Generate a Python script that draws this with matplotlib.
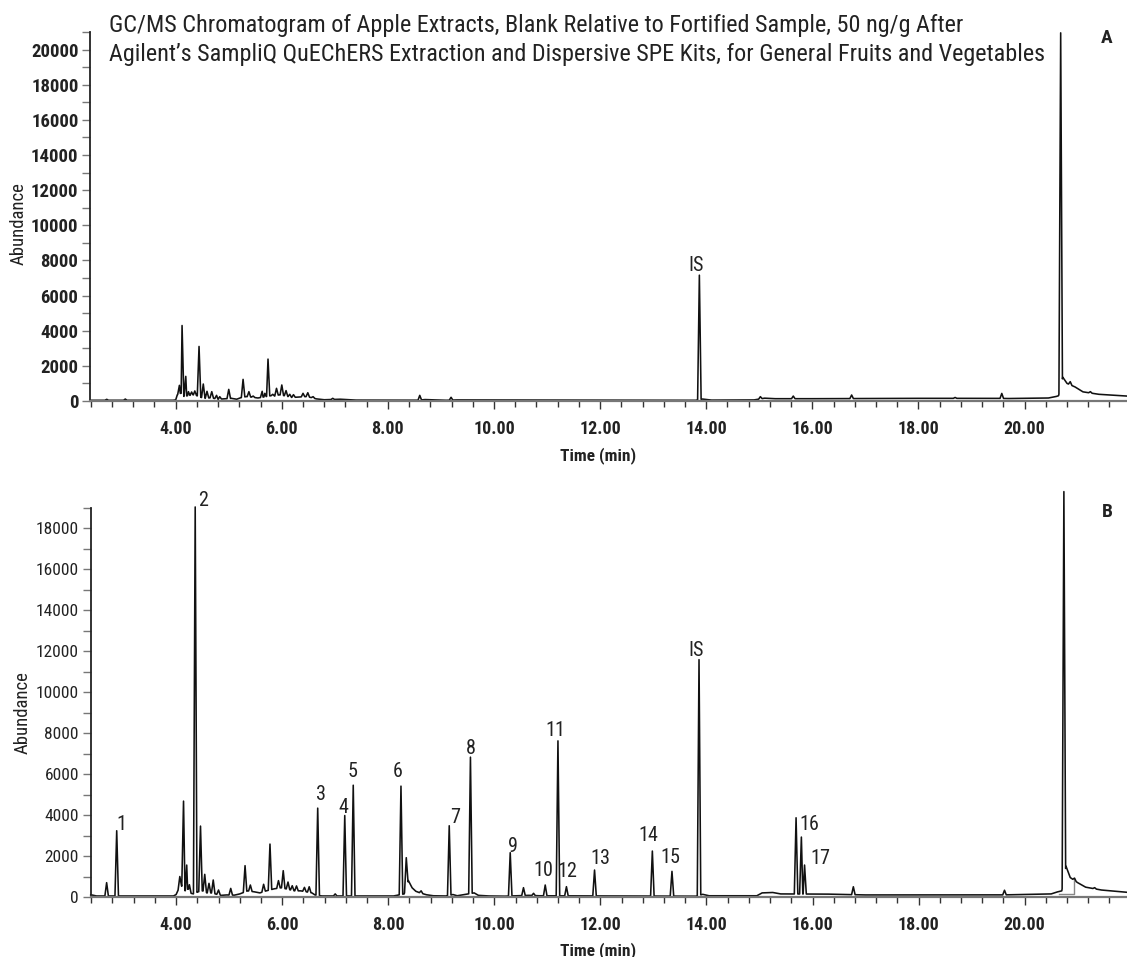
import numpy as np
import matplotlib.pyplot as plt
from matplotlib import font_manager as fm
from matplotlib.ticker import MultipleLocator, FormatStrFormatter


def pick_family():
    # prefer a narrow sans face; fall back to a condensed style of a common family
    entries = fm.fontManager.ttflist
    names = {e.name for e in entries}
    for name in ('Liberation Sans Narrow', 'Roboto Condensed', 'Open Sans Condensed'):
        if name in names:
            return name, 'normal'
    for name in ('Noto Sans', 'DejaVu Sans', 'Open Sans', 'Roboto', 'Lato'):
        if any(e.name == name and str(e.stretch) in ('condensed', 'semi-condensed')
               for e in entries):
            return name, 'condensed'
    return 'Liberation Sans', 'normal'


FAMILY, STRETCH = pick_family()
plt.rcParams['font.family'] = [FAMILY, 'DejaVu Sans']
plt.rcParams['font.stretch'] = STRETCH

TITLE_1 = "GC/MS Chromatogram of Apple Extracts, Blank Relative to Fortified Sample, 50 ng/g After"
TITLE_2 = "Agilent\u2019s SampliQ QuEChERS Extraction and Dispersive SPE Kits, for General Fruits and Vegetables"

# --- A: blank apple extract (retention time in min, abundance) ---
peak_t_a = [2.70, 3.05, 4.07, 4.12, 4.19, 4.24, 4.30, 4.36, 4.44, 4.52, 4.59, 4.68,
            4.77, 4.83, 5.00, 5.27, 5.38, 5.46, 5.63, 5.68, 5.74, 5.83, 5.90, 6.00,
            6.08, 6.15, 6.22, 6.40, 6.49, 6.59, 6.96, 8.60, 9.19, 13.87, 15.02, 15.64,
            16.74, 18.69, 19.57, 20.68, 20.86, 21.24]
peak_h_a = [95, 110, 890, 4295, 1400, 530, 510, 570, 3103, 965, 550, 530,
            320, 245, 660, 1230, 530, 280, 550, 435, 2384, 380, 720, 910,
            590, 380, 360, 435, 470, 245, 150, 320, 210, 7160, 245, 280,
            340, 200, 430, 20950, 1100, 530]
base_t_a = [2.39, 3.95, 4.00, 4.03, 4.10, 4.16, 4.22, 4.33, 4.40, 4.48, 4.56, 4.64,
            4.72, 4.80, 4.90, 5.05, 5.15, 5.22, 5.33, 5.43, 5.55, 5.70, 5.79, 5.87,
            5.95, 6.05, 6.12, 6.19, 6.30, 6.45, 6.55, 6.65, 6.80, 7.10, 7.40, 8.55,
            8.70, 9.10, 9.30, 13.80, 13.93, 14.10, 14.90, 15.10, 15.30, 16.00, 17.00,
            18.00, 19.50, 19.70, 20.45, 20.60, 20.64, 20.72, 20.80, 20.95, 21.10,
            21.40, 21.93]
base_y_a = [40, 40, 60, 350, 450, 250, 300, 350, 300, 200, 150, 180,
            150, 100, 120, 150, 100, 180, 250, 220, 170, 250, 300, 280,
            350, 300, 250, 200, 220, 250, 200, 120, 70, 100, 50, 40,
            80, 40, 60, 40, 110, 50, 60, 160, 130, 130, 140,
            150, 150, 140, 170, 260, 300, 1350, 1000, 800, 520,
            380, 280]

# --- B: fortified sample, 50 ng/g ---
peak_t_b = [2.69, 2.88, 4.07, 4.14, 4.20, 4.25, 4.36, 4.46, 4.54, 4.62, 4.70, 4.80,
            5.03, 5.30, 5.40, 5.65, 5.77, 5.93, 6.02, 6.11, 6.19, 6.27, 6.42, 6.51,
            6.67, 7.00, 7.18, 7.34, 8.24, 8.34, 8.62, 9.15, 9.55, 10.30, 10.55, 10.74,
            10.96, 11.20, 11.36, 11.89, 12.98, 13.35, 13.86, 15.69, 15.79, 15.85, 16.77,
            19.62, 20.74, 20.94, 21.32]
peak_h_b = [700, 3236, 1000, 4683, 1560, 600, 19050, 3463, 1106, 667, 830, 340,
            420, 1530, 585, 620, 2585, 800, 1285, 730, 550, 540, 470, 500,
            4340, 150, 3980, 5460, 5415, 1920, 300, 3480, 6830, 2163, 455, 180,
            585, 7626, 504, 1317, 2244, 1252, 11593, 3870, 2927, 1560, 500,
            330, 19800, 920, 455]
base_t_b = [2.39, 2.50, 3.95, 4.00, 4.04, 4.10, 4.17, 4.23, 4.28, 4.33, 4.41, 4.50,
            4.58, 4.66, 4.74, 4.85, 4.95, 5.10, 5.20, 5.35, 5.48, 5.58, 5.70, 5.85,
            5.98, 6.07, 6.15, 6.23, 6.35, 6.46, 6.56, 6.62, 6.75, 7.50, 8.10, 8.30,
            8.38, 8.45, 8.52, 8.60, 8.72, 8.85, 9.10, 9.22, 9.30, 9.62, 9.70, 9.90,
            10.20, 10.65, 10.85, 13.80, 13.93, 14.05, 14.95, 15.05, 15.25, 15.40,
            16.30, 17.00, 19.50, 19.75, 20.50, 20.62, 20.70, 20.78, 20.86, 21.00,
            21.15, 21.45, 21.93]
base_y_b = [110, 50, 50, 120, 350, 550, 300, 400, 180, 150, 250, 300,
            200, 200, 150, 80, 100, 90, 150, 300, 250, 200, 300, 400,
            450, 400, 350, 300, 300, 250, 200, 100, 50, 50, 50, 150,
            800, 450, 280, 200, 110, 60, 50, 120, 60, 200, 80, 50,
            40, 80, 60, 40, 130, 60, 60, 200, 220, 150,
            140, 100, 100, 110, 150, 250, 300, 1500, 950, 700,
            480, 340, 230]

# named peaks: label, retention time
label_names_b = ['1', '2', '3', '4', '5', '6', '7', '8', '9', '10', '11', '12',
                 '13', '14', '15', '16', '17', 'IS']
label_t_b = [2.88, 4.36, 6.67, 7.18, 7.34, 8.24, 9.15, 9.55, 10.30, 10.96, 11.20,
             11.36, 11.89, 12.98, 13.35, 15.69, 15.85, 13.86]
label_names_a = ['IS']
label_t_a = [13.87]

# integration marker under the large late peak in B
integ_t_b = [20.65, 20.93, 20.93]
integ_y_b = [130, 130, 910]

HALF_W = 0.033
label_offsets = {'1': (5, 1), '2': (8, 1), '3': (3, 8), '4': (-1, 3), '5': (-1, 8),
                 '6': (-3, 9), '7': (6, 3), '8': (0, 3), '9': (3, 1), '10': (-2, 9),
                 '11': (-3, 5), '12': (1, 10), '13': (6, 6), '14': (-4, 10),
                 '15': (-2, 8), '16': (13, -12), '17': (16, 1), 'IS': (-3, 4)}


def build_trace(base_t, base_y, pk_t, pk_h, hw):
    base_t = np.asarray(base_t, float)
    base_y = np.asarray(base_y, float)
    pk_t = np.asarray(pk_t, float)
    pk_h = np.asarray(pk_h, float)
    keep = np.ones(len(base_t), bool)
    for t in pk_t:
        keep &= np.abs(base_t - t) > hw
    feet_t = np.concatenate([pk_t - hw, pk_t + hw])
    feet_y = np.interp(feet_t, base_t, base_y)
    t = np.concatenate([base_t[keep], feet_t, pk_t])
    y = np.concatenate([base_y[keep], feet_y, pk_h])
    order = np.argsort(t, kind='stable')
    return t[order], y[order]


def style_axis(ax, ytop, ybold, ysize):
    ax.set_xlim(2.39, 21.93)
    ax.set_ylim(0, ytop)
    for s in ('top', 'right'):
        ax.spines[s].set_visible(False)
    ax.spines['left'].set_color('#222222')
    ax.spines['left'].set_linewidth(1.3)
    ax.spines['bottom'].set_color('#777777')
    ax.spines['bottom'].set_linewidth(1.6)
    ax.xaxis.set_major_locator(MultipleLocator(2))
    ax.xaxis.set_minor_locator(MultipleLocator(0.4))
    ax.xaxis.set_major_formatter(FormatStrFormatter('%.2f'))
    ax.yaxis.set_major_locator(MultipleLocator(2000))
    ax.yaxis.set_minor_locator(MultipleLocator(1000))
    ax.tick_params(axis='x', which='major', length=6, width=1, color='#333333',
                   pad=8, labelsize=13, labelcolor='#222222')
    ax.tick_params(axis='x', which='minor', length=4.5, width=1, color='#333333')
    ax.tick_params(axis='y', which='both', length=5.5, width=1, color='#777777',
                   pad=3, labelsize=ysize, labelcolor='#222222')
    for lbl in ax.get_xticklabels():
        lbl.set_fontweight('bold')
    for lbl in ax.get_yticklabels():
        lbl.set_fontweight('bold' if ybold else 'normal')
    ax.set_xlabel('Time (min)', fontsize=12.5, fontweight='bold', color='#222222')
    ax.set_ylabel('Abundance', fontsize=13.5, color='#222222', va='center')


def label_peaks(ax, names, times, pk_t, pk_h):
    pk_t = np.asarray(pk_t)
    for name, t in zip(names, times):
        h = pk_h[int(np.argmin(np.abs(pk_t - t)))]
        dx, dy = label_offsets[name]
        ax.annotate(name, (t, h), xytext=(dx, dy), textcoords='offset pixels',
                    ha='center', va='baseline', fontsize=14.5, color='#222222',
                    annotation_clip=False)


fig = plt.figure(figsize=(11.27, 9.57), dpi=100)
ax_a = fig.add_axes([0.0801, 0.5810, 0.9199, 0.3856])
ax_b = fig.add_axes([0.0805, 0.0627, 0.9195, 0.4065])

ta, ya = build_trace(base_t_a, base_y_a, peak_t_a, peak_h_a, HALF_W)
ax_a.plot(ta, ya, color='#111111', lw=1.15, clip_on=False)
style_axis(ax_a, 21000, True, 13.5)
label_peaks(ax_a, label_names_a, label_t_a, peak_t_a, peak_h_a)
ax_a.xaxis.set_label_coords(0.49, -0.125)
ax_a.yaxis.set_label_coords(-0.069, 0.48)

tb, yb = build_trace(base_t_b, base_y_b, peak_t_b, peak_h_b, HALF_W)
ax_b.plot(integ_t_b, integ_y_b, color='#888888', lw=1.0)
ax_b.plot(tb, yb, color='#111111', lw=1.15, clip_on=False)
style_axis(ax_b, 19000, False, 12.5)
label_peaks(ax_b, label_names_b, label_t_b, peak_t_b, peak_h_b)
ax_b.xaxis.set_label_coords(0.49, -0.116)
ax_b.yaxis.set_label_coords(-0.066, 0.473)

fig.text(0.0967, 0.9662, TITLE_1, fontsize=17.4, color='#222222', va='baseline')
fig.text(0.0967, 0.9363, TITLE_2, fontsize=17.4, color='#222222', va='baseline')
fig.text(0.9823, 0.9554, 'A', fontsize=14, fontweight='bold', color='#222222',
         ha='center', va='baseline')
fig.text(0.9823, 0.4594, 'B', fontsize=14, fontweight='bold', color='#222222',
         ha='center', va='baseline')

fig.savefig('out.png', dpi=100)
